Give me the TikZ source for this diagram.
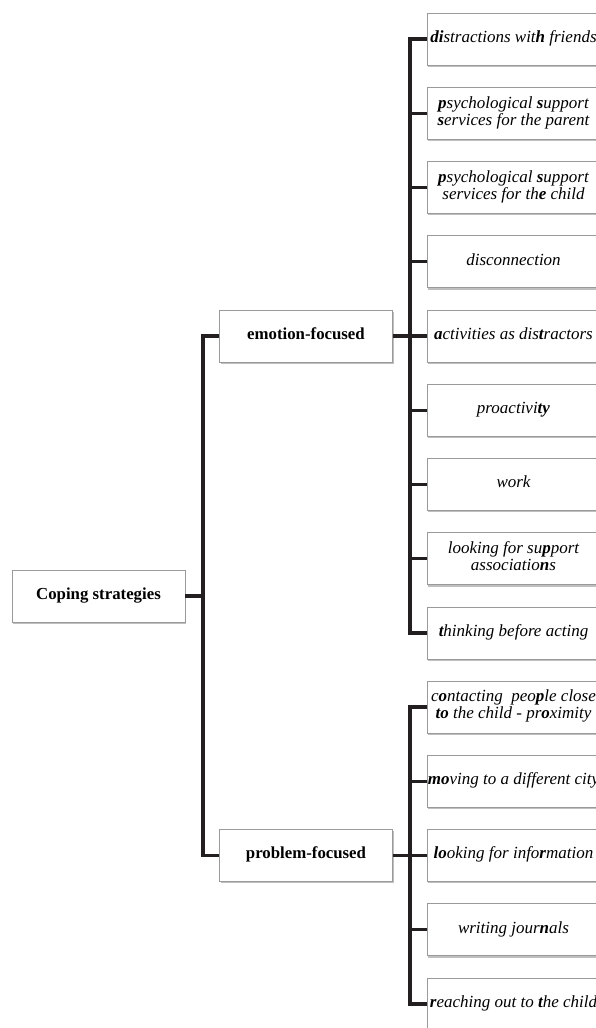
\documentclass[tikz,border=0pt]{standalone}
\usepackage{fontspec}
\setmainfont{Liberation Serif}
\usetikzlibrary{shadows}
\definecolor{ink}{HTML}{231F20}
\definecolor{boxline}{HTML}{9A9A9A}
\newcommand\cellt[1]{\makebox[0pt][c]{\begin{tabular}{@{}c@{}}#1\end{tabular}}}
\tikzset{
  boxbase/.style={draw=boxline, line width=0.8pt, fill=white,
    minimum width=173pt, minimum height=52pt, inner sep=0pt,
    drop shadow={shadow xshift=1.2pt, shadow yshift=-1.8pt, fill=black, opacity=0.25}},
  itembox/.style={boxbase, font=\fontsize{17}{17}\selectfont\itshape},
  headbox/.style={boxbase, font=\fontsize{16.8}{17}\selectfont\bfseries},
  conn/.style={draw=ink, line width=3.4pt, line join=miter}
}
\begin{document}
\begin{tikzpicture}[x=1pt, y=-1pt]
\useasboundingbox (0,0) rectangle (595,1028);
\fill[white] (0,0) rectangle (595,1028);

\node[headbox] (cs) at (98.5,596) {\cellt{Coping strategies}};
\node[headbox] (ef) at (306,336) {\cellt{emotion-focused}};
\node[headbox] (pf) at (306,855.5) {\cellt{problem-focused}};

\node[itembox] (e1) at (513.5,39) {\cellt{\textbf{di}stractions wit\textbf{h} friends}};
\node[itembox] (e2) at (513.5,113.25) {\cellt{\textbf{p}sychological \textbf{s}upport\\ \textbf{s}ervices for the parent}};
\node[itembox] (e3) at (513.5,187.5) {\cellt{\textbf{p}sychological \textbf{s}upport\\ services for th\textbf{e} child}};
\node[itembox] (e4) at (513.5,261.75) {\cellt{disconnection}};
\node[itembox] (e5) at (513.5,336) {\cellt{\textbf{a}ctivities as dis\textbf{t}ractors}};
\node[itembox] (e6) at (513.5,410.25) {\cellt{proactivi\textbf{ty}}};
\node[itembox] (e7) at (513.5,484.5) {\cellt{work}};
\node[itembox] (e8) at (513.5,558.75) {\cellt{looking for su\textbf{p}port\\ associatio\textbf{n}s}};
\node[itembox] (e9) at (513.5,633) {\cellt{\textbf{t}hinking before acting}};

\node[itembox] (p1) at (513.5,707) {\cellt{c\textbf{o}ntacting\ \ peo\textbf{p}le close\\ \textbf{to} the child - pr\textbf{o}ximity}};
\node[itembox] (p2) at (513.5,781.25) {\cellt{\textbf{mo}ving to a different city}};
\node[itembox] (p3) at (513.5,855.5) {\cellt{\textbf{lo}oking for info\textbf{r}mation}};
\node[itembox] (p4) at (513.5,929.75) {\cellt{writing jour\textbf{n}als}};
\node[itembox] (p5) at (513.5,1004) {\cellt{\textbf{r}eaching out to \textbf{t}he child}};

\coordinate (j1) at (203,596);
\coordinate (j2) at (410,336);

\draw[conn] (cs.east) -- (j1);
\draw[conn] (ef.west) -- (ef.west -| j1) -- (pf.west -| j1) -- (pf.west);

\draw[conn] (e1.west) -- (e1.west -| j2) -- (e9.west -| j2) -- (e9.west);
\foreach \n in {e2,e3,e4,e6,e7,e8} {
  \draw[conn] (\n.west) -- (\n.west -| j2);
}
\draw[conn] (ef.east) -- (e5.west);

\draw[conn] (p1.west) -- (p1.west -| j2) -- (p5.west -| j2) -- (p5.west);
\foreach \n in {p2,p4} {
  \draw[conn] (\n.west) -- (\n.west -| j2);
}
\draw[conn] (pf.east) -- (p3.west);
\end{tikzpicture}
\end{document}
